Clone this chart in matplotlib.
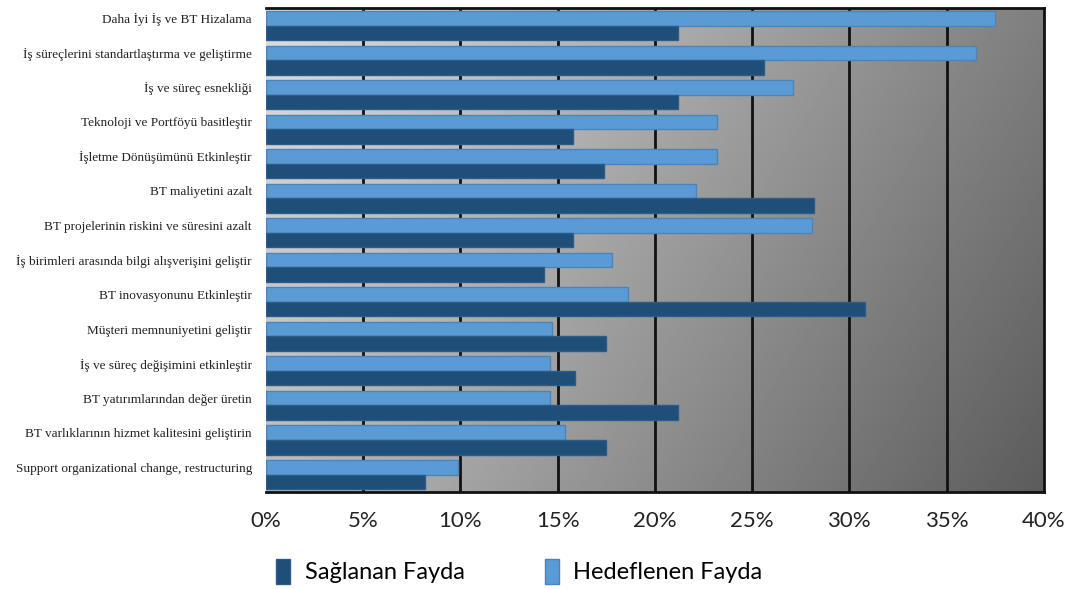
import matplotlib
matplotlib.use("Agg")
import matplotlib.pyplot as plt
import numpy as np

# categories, top to bottom
categories = [
    "Daha İyi İş ve BT Hizalama",
    "İş süreçlerini standartlaştırma ve geliştirme",
    "İş ve süreç esnekliği",
    "Teknoloji ve Portföyü basitleştir",
    "İşletme Dönüşümünü Etkinleştir",
    "BT maliyetini azalt",
    "BT projelerinin riskini ve süresini azalt",
    "İş birimleri arasında bilgi alışverişini geliştir",
    "BT inovasyonunu Etkinleştir",
    "Müşteri memnuniyetini geliştir",
    "İş ve süreç değişimini etkinleştir",
    "BT yatırımlarından değer üretin",
    "BT varlıklarının hizmet kalitesini geliştirin",
    "Support organizational change, restructuring",
]

# values in percent
hedeflenen = [37.5, 36.5, 27.1, 23.2, 23.2, 22.1, 28.1, 17.8, 18.6, 14.7, 14.6, 14.6, 15.4, 9.9]
saglanan = [21.2, 25.6, 21.2, 15.8, 17.4, 28.2, 15.8, 14.3, 30.8, 17.5, 15.9, 21.2, 17.5, 8.2]

x_ticks = [0, 5, 10, 15, 20, 25, 30, 35, 40]

LIGHT = "#5B9BD5"
DARK = "#1F4E79"
SANS = ["Lato", "DejaVu Sans"]

fig = plt.figure(figsize=(10.85, 5.89), dpi=100)
ax = fig.add_axes([0.245, 0.165, 0.717, 0.821])

# diagonal grey gradient background
gx, gy = np.meshgrid(np.linspace(0, 1, 300), np.linspace(0, 1, 300))
shade = 0.87 - 0.37 * gx - 0.14 * (1 - gy)
ax.imshow(shade, cmap="gray", vmin=0, vmax=1, origin="lower", aspect="auto",
          extent=(0, 1, 0, 1), transform=ax.transAxes, zorder=0)

y = np.arange(len(categories))
h = 0.42
ax.barh(y - 0.21, hedeflenen, height=h, color=LIGHT, edgecolor="#4A84BA",
        linewidth=1, zorder=3, label="Hedeflenen Fayda")
ax.barh(y + 0.21, saglanan, height=h, color=DARK, edgecolor="#2E5C8A",
        linewidth=1, zorder=3, label="Sağlanan Fayda")

for t in x_ticks[1:-1]:
    ax.axvline(t, color="#111111", lw=2, zorder=2)

ax.set_xlim(0, 40)
ax.set_ylim(len(categories) - 0.5, -0.5)

ax.set_xticks(x_ticks)
ax.set_xticklabels([f"{t}%" for t in x_ticks], family=SANS, fontsize=16, color="#222222")
ax.tick_params(axis="x", length=0, pad=14)

ax.set_yticks(y - 0.21)
ax.set_yticklabels(categories, family="Liberation Serif", fontsize=9.5, color="#222222")
ax.tick_params(axis="y", length=0, pad=10)

for side in ["top", "right", "bottom"]:
    ax.spines[side].set_linewidth(2)
    ax.spines[side].set_color("#111111")
ax.spines["left"].set_visible(False)

handles, labels = ax.get_legend_handles_labels()
leg = fig.legend(handles[::-1], labels[::-1], loc="lower left",
                 bbox_to_anchor=(0.235, -0.028), ncol=2, frameon=False,
                 prop={"family": SANS, "size": 17}, handlelength=0.6,
                 handleheight=1.3, columnspacing=3.4, handletextpad=0.6)

fig.savefig("out.png", dpi=100)
